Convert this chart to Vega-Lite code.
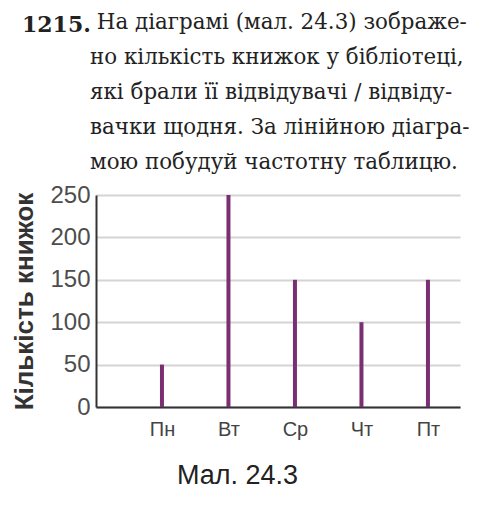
{
  "$schema": "https://vega.github.io/schema/vega-lite/v6.json",
  "autosize": "none",
  "width": 364,
  "height": 212,
  "padding": {"left": 96, "top": 195, "right": 40, "bottom": 100},
  "background": "white",
  "title": {
    "text": "1215.",
    "subtitle": [
      "\u200b\u00a0\u00a0\u00a0\u00a0\u00a0\u00a0\u00a0\u00a0\u00a0\u00a0\u00a0На діаграмі (мал. 24.3) зображе-",
      "\u200b\u00a0\u00a0\u00a0\u00a0\u00a0\u00a0\u00a0\u00a0\u00a0\u00a0но кількість книжок у бібліотеці,",
      "\u200b\u00a0\u00a0\u00a0\u00a0\u00a0\u00a0\u00a0\u00a0\u00a0\u00a0які брали її відвідувачі / відвіду-",
      "\u200b\u00a0\u00a0\u00a0\u00a0\u00a0\u00a0\u00a0\u00a0\u00a0\u00a0вачки щодня. За лінійною діагра-",
      "\u200b\u00a0\u00a0\u00a0\u00a0\u00a0\u00a0\u00a0\u00a0\u00a0\u00a0мою побудуй частотну таблицю."
    ],
    "anchor": "start",
    "frame": "group",
    "orient": "top",
    "dx": -74,
    "offset": 7,
    "font": "DejaVu Serif",
    "fontSize": 22,
    "fontWeight": "bold",
    "color": "#222222",
    "subtitleFont": "DejaVu Serif",
    "subtitleFontSize": 21.4,
    "subtitleColor": "#222222",
    "subtitleLineHeight": 35,
    "subtitlePadding": -25
  },
  "data": {
    "values": [
      {"day": "Пн", "books": 50},
      {"day": "Вт", "books": 250},
      {"day": "Ср", "books": 150},
      {"day": "Чт", "books": 100},
      {"day": "Пт", "books": 150}
    ]
  },
  "mark": {"type": "bar", "size": 4, "color": "#7a2f72"},
  "encoding": {
    "x": {
      "field": "day",
      "type": "nominal",
      "sort": null,
      "scale": {"type": "point", "padding": 0.737, "align": 0.673},
      "axis": {
        "title": "Мал. 24.3",
        "titleFont": "Liberation Sans",
        "titleFontSize": 27,
        "titleFontWeight": "normal",
        "titleColor": "#222222",
        "titleX": 141,
        "titleY": 55,
        "titleAlign": "center",
        "labelAngle": 0,
        "labelFont": "Liberation Sans",
        "labelFontSize": 20,
        "labelColor": "#444444",
        "labelPadding": 12,
        "ticks": false,
        "domainColor": "#333333",
        "domainWidth": 2,
        "grid": false
      }
    },
    "y": {
      "field": "books",
      "type": "quantitative",
      "scale": {"domain": [0, 250], "nice": false},
      "axis": {
        "values": [0, 50, 100, 150, 200, 250],
        "title": "Кількість книжок",
        "titleFont": "Liberation Sans",
        "titleFontSize": 26,
        "titleFontWeight": "bold",
        "titleColor": "#333333",
        "titlePadding": 12,
        "labelFont": "Liberation Sans",
        "labelFontSize": 24,
        "labelColor": "#4d4d4d",
        "labelPadding": 6,
        "ticks": false,
        "domainColor": "#333333",
        "domainWidth": 2,
        "grid": true,
        "gridColor": "#d4d4d4",
        "gridWidth": 2
      }
    }
  },
  "config": {"view": {"stroke": null}}
}
